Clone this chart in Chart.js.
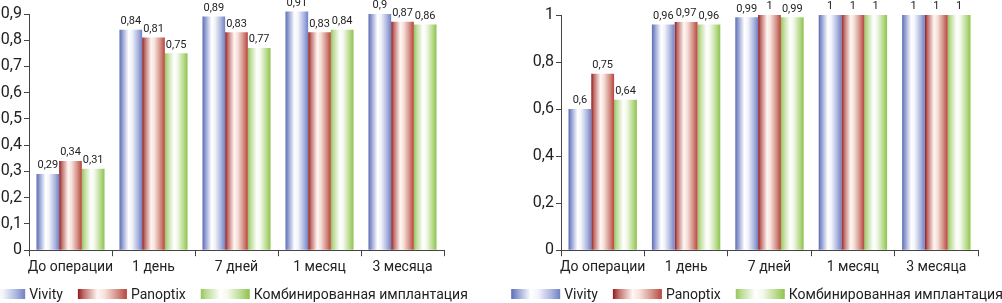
<!DOCTYPE html>
<html>
<head>
<meta charset="utf-8">
<script src="https://cdn.jsdelivr.net/npm/chart.js@4.4.1/dist/chart.umd.min.js"></script>
<style>
  html, body { margin: 0; padding: 0; background: #fff; overflow: hidden; }
  #wrap { position: relative; width: 1002px; height: 303px; overflow: hidden; }
  .box { position: absolute; top: 0; height: 303px; }
  #leftBox { left: -50px; width: 550px; }
  #rightBox { left: 500px; width: 502px; }
</style>
</head>
<body>
<div id="wrap">
  <div class="box" id="leftBox"><canvas id="left"></canvas></div>
  <div class="box" id="rightBox"><canvas id="right"></canvas></div>
</div>
<script>
// данные
const periods = ['До операции', '1 день', '7 дней', '1 месяц', '3 месяца']
const seriesNames = ['Vivity', 'Panoptix', 'Комбинированная имплантация']

const leftVivity = [0.29, 0.84, 0.89, 0.91, 0.9]
const leftPanoptix = [0.34, 0.81, 0.83, 0.83, 0.87]
const leftCombo = [0.31, 0.75, 0.77, 0.84, 0.86]

const rightVivity = [0.6, 0.96, 0.99, 1, 1]
const rightPanoptix = [0.75, 0.97, 1, 1, 1]
const rightCombo = [0.64, 0.96, 0.99, 1, 1]

const FONT = "Roboto, 'Liberation Sans', sans-serif"
const CAT_PCT = 0.82

// градиенты столбиков: цвет - белый - цвет
const stops = [
    [[0, '#5d6db4'], [0.12, '#8e9ad0'], [0.4, '#ffffff'], [0.55, '#f3f4fa'], [0.82, '#aab4de'], [1, '#7181c4']],
    [[0, '#951a1c'], [0.12, '#c06f6c'], [0.4, '#fff6f2'], [0.55, '#f6e0da'], [0.82, '#d08a80'], [1, '#b8453f']],
    [[0, '#96c55a'], [0.12, '#bddc98'], [0.4, '#ffffff'], [0.55, '#f4f9ec'], [0.82, '#b9db8e'], [1, '#8fc24f']]
]
const plainColors = ['#7181c4', '#b8453f', '#8fc24f']

function makeGradient(ctx2d, x0, x1, s) {
    const g = ctx2d.createLinearGradient(x0, 0, x1, 0)
    s.forEach(p => g.addColorStop(p[0], p[1]))
    return g
}

function barFill(i) {
    return (ctx) => {
        const chart = ctx.chart
        const xs = chart.scales && chart.scales.x
        if (ctx.type !== 'data' || !xs || !xs.width) return plainColors[i]
        const catW = xs.width / periods.length
        const barW = catW * CAT_PCT / 3
        const cx = xs.getPixelForValue(ctx.dataIndex) + (ctx.datasetIndex - 1) * barW
        return makeGradient(chart.ctx, cx - barW / 2, cx + barW / 2, stops[i])
    }
}

const comma = v => String(+(+v).toFixed(2)).replace('.', ',')

const valueLabels = {
    id: 'valueLabels',
    afterDatasetsDraw(chart) {
        const c = chart.ctx
        c.save()
        c.font = '11px ' + FONT
        c.fillStyle = '#222'
        c.textAlign = 'center'
        c.textBaseline = 'bottom'
        chart.data.datasets.forEach((ds, di) => {
            chart.getDatasetMeta(di).data.forEach((bar, k) => {
                c.fillText(comma(ds.data[k]), bar.x, bar.y - 3)
            })
        })
        c.restore()
    }
}

// легенда рисуется вручную, чтобы квадраты были с градиентом и в одну строку
const customLegend = {
    id: 'customLegend',
    afterDraw(chart, args, opts) {
        const c = chart.ctx
        const BOX = 49, GAP = 4, SP = 15
        c.save()
        c.font = '14px ' + FONT
        c.fillStyle = '#222'
        c.textBaseline = 'middle'
        const w = seriesNames.map(n => c.measureText(n).width)
        let total = SP * (seriesNames.length - 1)
        w.forEach(t => { total += BOX + GAP + t })
        let x = opts.center - total / 2
        const y = opts.y
        seriesNames.forEach((n, i) => {
            c.fillStyle = makeGradient(c, x, x + BOX, stops[i])
            c.fillRect(x, y - 5, BOX, 10)
            c.fillStyle = '#222'
            c.fillText(n, x + BOX + GAP, y + 1)
            x += BOX + GAP + w[i] + SP
        })
        c.restore()
    }
}

function build(id, sets, yMax, step, yWidth, padRight, padTop, legendCenter) {
    return new Chart(document.getElementById(id), {
        type: 'bar',
        data: {
            labels: periods,
            datasets: sets.map((d, i) => ({
                label: seriesNames[i],
                data: d,
                backgroundColor: barFill(i),
                borderWidth: 0,
                categoryPercentage: CAT_PCT,
                barPercentage: 1,
                clip: false
            }))
        },
        options: {
            responsive: true,
            maintainAspectRatio: false,
            animation: false,
            layout: { padding: { top: padTop, right: padRight, left: 0, bottom: 24 } },
            plugins: {
                tooltip: { enabled: false },
                legend: { display: false },
                customLegend: { center: legendCenter, y: 294 }
            },
            scales: {
                x: {
                    offset: true,
                    border: { color: '#444', width: 1 },
                    grid: { display: true, drawOnChartArea: false, tickLength: 6, color: '#444' },
                    ticks: { font: { family: FONT, size: 14 }, color: '#222', padding: 3, maxRotation: 0, autoSkip: false }
                },
                y: {
                    min: 0,
                    max: yMax,
                    border: { color: '#444', width: 1 },
                    grid: { display: true, drawOnChartArea: false, tickLength: 5, color: '#444' },
                    ticks: {
                        stepSize: step,
                        font: { family: FONT, size: 16 },
                        color: '#222',
                        padding: 2,
                        callback: v => comma(v)
                    },
                    afterFit: s => { s.width = yWidth }
                }
            }
        },
        plugins: [valueLabels, customLegend]
    })
}

build('left', [leftVivity, leftPanoptix, leftCombo], 0.9, 0.1, 79, 56, 14, 272)
build('right', [rightVivity, rightPanoptix, rightCombo], 1, 0.2, 61, 24, 15, 257)
</script>
</body>
</html>
